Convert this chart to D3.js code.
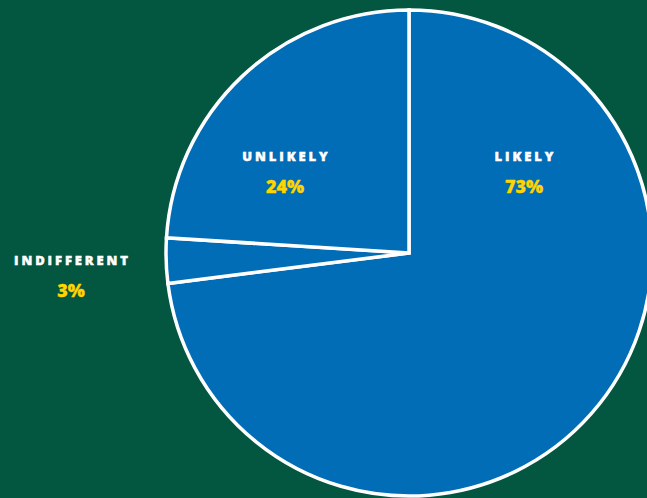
<!DOCTYPE html>
<html>
<head>
<meta charset="utf-8">
<script src="https://cdn.jsdelivr.net/npm/d3@7"></script>
<style>
  html, body { margin: 0; padding: 0; background: #03563f; overflow: hidden; }
  svg { display: block; }
  .cat { font-family: "Open Sans", sans-serif; font-weight: 800; fill: #ffffff; stroke: #ffffff; stroke-width: 0.45; letter-spacing: 2.9px; }
  .pct { font-family: "Open Sans", sans-serif; font-weight: 800; fill: #ffd400; stroke: #ffd400; stroke-width: 0.3; }
</style>
</head>
<body>
<svg id="chart" width="647" height="498"></svg>
<script>
// Survey response shares
const categories = ["LIKELY", "INDIFFERENT", "UNLIKELY"];
const values = [73, 3, 24];
const valueLabels = ["73%", "3%", "24%"];

const W = 647, H = 498;
const cx = 409, cy = 253, radius = 243;

// label anchors, relative to the pie centre
const labelOffsets = [[115, -92], [-338, 12], [-124, -92]];

const svg = d3.select("#chart");
svg.append("rect").attr("width", W).attr("height", H).attr("fill", "#03563f");

const pie = d3.pie().sort(null).value(d => d)(values);
const arc = d3.arc().innerRadius(0).outerRadius(radius);

const g = svg.append("g").attr("transform", `translate(${cx},${cy})`);

g.selectAll("path.slice")
  .data(pie)
  .join("path")
  .attr("class", "slice")
  .attr("d", arc)
  .attr("fill", "#006db6")
  .attr("stroke", "#ffffff")
  .attr("stroke-width", 3.5)
  .attr("stroke-linejoin", "miter");

const labels = g.selectAll("g.lbl")
  .data(pie)
  .join("g")
  .attr("class", "lbl")
  .attr("transform", (d, i) => `translate(${labelOffsets[i][0]},${labelOffsets[i][1]})`);

labels.append("text")
  .attr("class", "cat")
  .attr("text-anchor", "middle")
  .attr("font-size", 13)
  .attr("dx", 1.45)
  .attr("y", 0)
  .text((d, i) => categories[i]);

labels.append("text")
  .attr("class", "pct")
  .attr("text-anchor", "middle")
  .attr("font-size", 18)
  .attr("y", 32)
  .text((d, i) => valueLabels[i]);
</script>
</body>
</html>
